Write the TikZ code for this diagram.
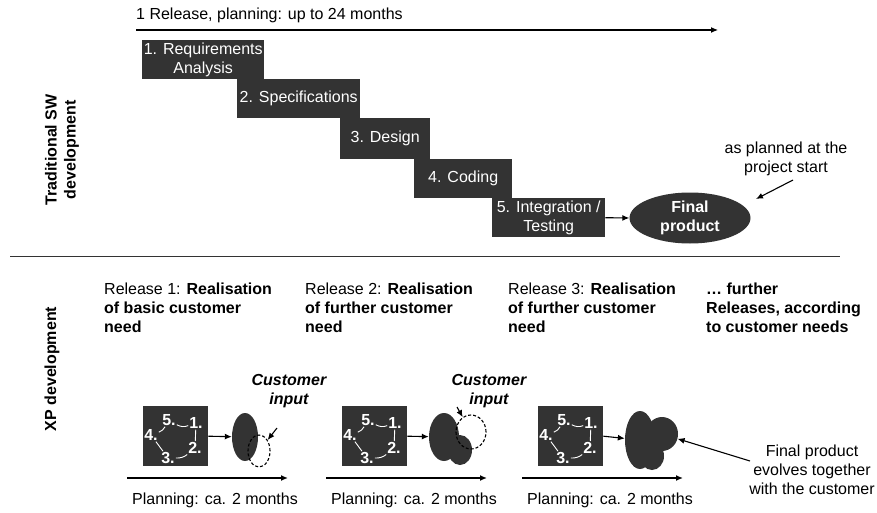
\documentclass[tikz,border=0pt]{standalone}
\usepackage{fontspec}
\setmainfont{Liberation Sans}
\usetikzlibrary{arrows.meta,shapes.geometric}
\definecolor{boxgray}{RGB}{51,51,51}
\newcommand{\figfont}{\fontsize{16}{19}\selectfont}
\tikzset{
  phase/.style={fill=boxgray,text=white,inner sep=0pt,align=center,anchor=north west},
  cycbox/.style={fill=boxgray,inner sep=0pt,minimum width=65pt,minimum height=60pt,anchor=north west},
  blob/.style={ellipse,fill=boxgray,inner sep=0pt},
  dashblob/.style={ellipse,draw=black,line width=1.1pt,inner sep=0pt,dash pattern=on 3pt off 2pt},
  num/.style={text=white,font=\figfont\bfseries,inner sep=0.5pt},
  cycarc/.style={white,line width=0.9pt,shorten <=0.5pt,shorten >=0.5pt},
  arr/.style={-{Latex[length=7pt,width=6pt]},line width=1.1pt},
  lbl/.style={inner sep=0pt,align=center},
  reltext/.style={inner sep=0pt,align=left,anchor=north west}
}
\begin{document}
\begin{tikzpicture}[x=1pt,y=-1pt,font=\figfont]
  \useasboundingbox (0,0) rectangle (877,513);
  % traditional development
  \node[lbl,anchor=base west] (reltitle) at (136,20) {1 Release, planning: up to 24 months};
  \coordinate (topa) at (136,30);
  \coordinate (topb) at (718,30);
  \draw[arr] (topa) -- (topb);

  \node[phase,minimum width=122pt,minimum height=39pt] (req) at (142,40) {1. Requirements\\Analysis};
  \node[phase,minimum width=123pt,minimum height=39pt] (spec) at (237,79) {2. Specifications};
  \node[phase,minimum width=90pt,minimum height=41pt] (des) at (340,118) {3. Design};
  \node[phase,minimum width=98pt,minimum height=39pt] (cod) at (414,159) {4. Coding};
  \node[phase,minimum width=113pt,minimum height=39pt] (test) at (492,198) {5. Integration /\\Testing};
  \node[ellipse,fill=boxgray,text=white,font=\figfont\bfseries,align=center,inner sep=0pt,
        minimum width=121pt,minimum height=51pt] (final) at (690,218) {Final\\product};
  \draw[arr] (test.east) -- (final.west);

  \node[lbl] (plan) at (786,159) {as planned at the\\project start};
  \coordinate (plantail) at (793,180);
  \coordinate (planhead) at (756,199);
  \draw[arr] (plantail) -- (planhead);

  \node[lbl,rotate=90,font=\figfont\bfseries] (trad) at (62,150) {Traditional SW\\development};

  % separator
  \coordinate (sepa) at (10,256);
  \coordinate (sepb) at (840,256);
  \draw[line width=1pt,black!80] (sepa) -- (sepb);

  % XP development
  \node[lbl,rotate=90,font=\figfont\bfseries] (xp) at (52,369) {XP development};

  \node[reltext] (rel1) at (104,283) {Release 1: \textbf{Realisation}\\\textbf{of basic customer}\\\textbf{need}};
  \node[reltext] (rel2) at (305,283) {Release 2: \textbf{Realisation}\\\textbf{of further customer}\\\textbf{need}};
  \node[reltext] (rel3) at (508,283) {Release 3: \textbf{Realisation}\\\textbf{of further customer}\\\textbf{need}};
  \node[reltext,font=\figfont\bfseries] (relx) at (706,283) {… further\\Releases, according\\to customer needs};

  \foreach \i/\x in {1/143,2/342,3/538}{
    \node[cycbox] (cyc\i) at (\x,406) {};
    \node[num] (n5-\i) at ([shift={(26,14)}]cyc\i.north west) {5.};
    \node[num] (n1-\i) at ([shift={(53,17)}]cyc\i.north west) {1.};
    \node[num] (n2-\i) at ([shift={(52,42)}]cyc\i.north west) {2.};
    \node[num] (n3-\i) at ([shift={(25,52)}]cyc\i.north west) {3.};
    \node[num] (n4-\i) at ([shift={(8,29)}]cyc\i.north west) {4.};
    \draw[cycarc] (n5-\i) to[bend right=25] (n1-\i);
    \draw[cycarc] (n1-\i) -- (n2-\i);
    \draw[cycarc] (n2-\i) to[bend left=20] (n3-\i);
    \draw[cycarc] (n3-\i) -- (n4-\i);
    \draw[cycarc] (n4-\i) to[bend right=20] (n5-\i);
    \coordinate (pla\i) at (\x-16,478);
    \coordinate (plb\i) at (\x+145,478);
    \draw[arr,line width=1.4pt] (pla\i) -- (plb\i);
    \node[lbl] (pltext\i) at (\x+72,500) {Planning: ca. 2 months};
  }

  % release 1 product
  \node[blob,minimum width=26pt,minimum height=48pt] (prod1) at (245,437) {};
  \node[dashblob,minimum width=22pt,minimum height=32pt] (dash1) at (259,451) {};
  \draw[arr] (cyc1.east) -- (prod1);
  \node[lbl,font=\figfont\bfseries\itshape] (cust1) at (289,391) {Customer\\input};
  \coordinate (ctail1) at (277,428);
  \draw[arr] (ctail1) -- (dash1);

  % release 2 product
  \node[blob,minimum width=30pt,minimum height=48pt] (prod2) at (444,437) {};
  \node[blob,minimum width=24pt,minimum height=30pt] (prod2b) at (460,450) {};
  \node[dashblob,minimum width=30pt,minimum height=34pt] (dash2) at (471,432) {};
  \draw[arr] (cyc2.east) -- (prod2);
  \node[lbl,font=\figfont\bfseries\itshape] (cust2) at (489,391) {Customer\\input};
  \coordinate (ctail2) at (457,407);
  \draw[arr] (ctail2) -- (dash2);

  % release 3 product
  \node[blob,minimum width=30pt,minimum height=58pt] (prod3) at (640,440) {};
  \node[blob,minimum width=32pt,minimum height=34pt] (prod3b) at (662,434) {};
  \node[blob,minimum width=24pt,minimum height=28pt] (prod3c) at (652,456) {};
  \draw[arr] (cyc3.east) -- (prod3);
  \node[lbl] (evolve) at (812,470) {Final product\\evolves together\\with the customer};
  \coordinate (evtail) at (750,461);
  \draw[arr] (evtail) -- (prod3b);
\end{tikzpicture}
\end{document}
